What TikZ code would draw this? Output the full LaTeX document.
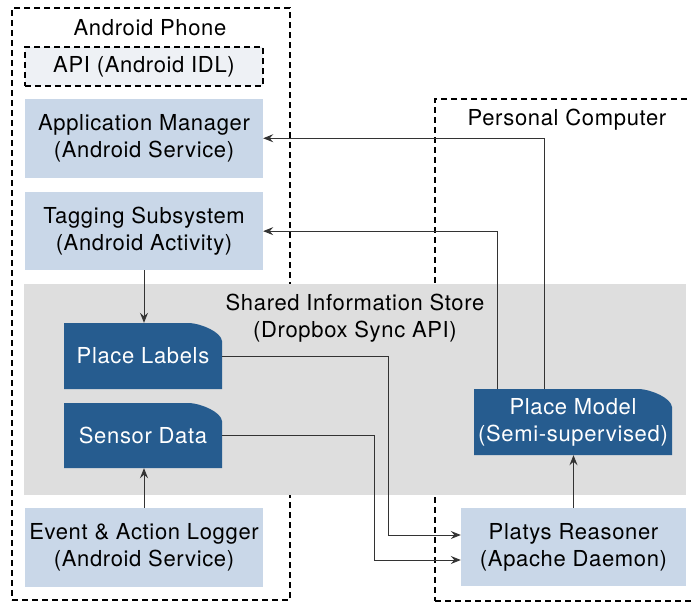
\documentclass[tikz,border=0pt]{standalone}
\usepackage{fontspec}
\setmainfont{TeX Gyre Heros}[LetterSpace=3]
\usepackage{tikz}
\usetikzlibrary{positioning,arrows.meta}
\definecolor{boxblue}{RGB}{201,215,232}
\definecolor{docblue}{RGB}{38,92,143}
\definecolor{storegrey}{RGB}{222,222,222}
\definecolor{apifill}{RGB}{238,241,245}

\begin{document}
\begin{tikzpicture}[
  x=1pt, y=-1pt,
  font=\fontsize{22}{27}\selectfont,
  node distance=12pt,
  group/.style={draw, dash pattern=on 6pt off 4pt, line width=1.1pt, inner sep=0pt},
  box/.style={fill=boxblue, align=center, minimum width=238pt, minimum height=79pt, inner sep=0pt},
  doc/.style={fill=storegrey, text=white, align=center, inner sep=0pt,
    path picture={\fill[docblue] (path picture bounding box.north west)
      -- ([xshift=-32pt]path picture bounding box.north east)
      .. controls ([xshift=-20pt,yshift=-1pt]path picture bounding box.north east)
      and ([xshift=-1pt,yshift=-9pt]path picture bounding box.north east)
      .. ([yshift=-18pt]path picture bounding box.north east)
      -- (path picture bounding box.south east)
      -- (path picture bounding box.south west) -- cycle;}},
  arr/.style={-{Stealth[length=10pt,width=8pt,inset=3.5pt]}, line width=0.9pt, black!80}
]
\useasboundingbox (0,0) rectangle (691,603);

\node[group, minimum width=278pt, minimum height=592pt] (phone) at (151,304) {};
\node[group, minimum width=265pt, minimum height=502pt] (pc) at (567.5,350) {};
\node (phonetitle) at (150,28) {Android Phone};
\node (pctitle) at (567,120) {Personal Computer};

\node[fill=storegrey, minimum width=662pt, minimum height=211pt] (store) at (355,389.5) {};
\node[align=center] (storetitle) at (355,318.5) {Shared Information Store\\(Dropbox Sync API)};

\node[box, group, fill=apifill, minimum height=39pt] (api) at (144,66.5) {API (Android IDL)};
\node[box, below=12pt of api] (appmgr) {Application Manager\\(Android Service)};
\node[box, below=14pt of appmgr, minimum height=78pt] (tagging) {Tagging Subsystem\\(Android Activity)};
\node[box] (logger) at (144,547.5) {Event \& Action Logger\\(Android Service)};
\node[box, minimum width=225pt, minimum height=78pt] (reasoner) at (573.5,547) {Platys Reasoner\\(Apache Daemon)};

\node[doc, minimum width=158pt, minimum height=66pt] (labels) at (143,356) {Place Labels};
\node[doc, minimum width=158pt, minimum height=65pt] (sensor) at (143,435.5) {Sensor Data};
\node[doc, minimum width=198pt, minimum height=66pt] (model) at (573,422) {Place Model\\(Semi-supervised)};

\draw[arr] (tagging.south) -- (tagging.south |- labels.north);
\draw[arr] (logger.north) -- (logger.north |- sensor.south);
\draw[arr] (labels.east) -- ++(166,0) |- ([yshift=12pt]reasoner.west);
\draw[arr] (sensor.east) -- ++(152,0) |- ([yshift=-13pt]reasoner.west);
\draw[arr] (reasoner.north) -- (reasoner.north |- model.south);
\draw[arr] ([xshift=-76pt]model.north) |- (tagging.east);
\draw[arr] ([xshift=-29pt]model.north) |- (appmgr.east);
\end{tikzpicture}
\end{document}
